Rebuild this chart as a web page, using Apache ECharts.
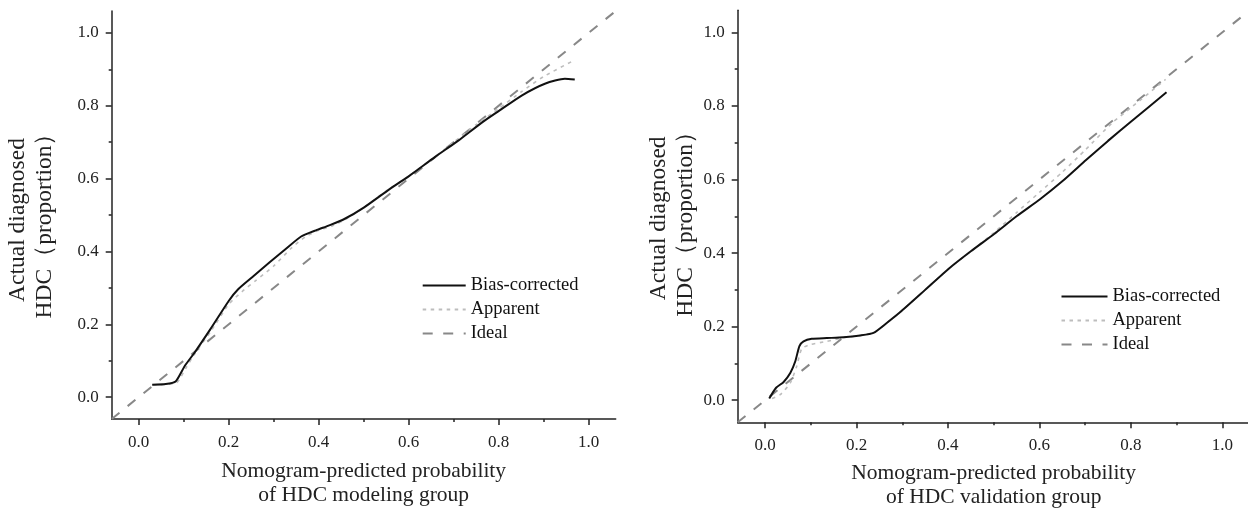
<!DOCTYPE html>
<html>
<head>
<meta charset="utf-8">
<script src="https://cdn.jsdelivr.net/npm/echarts@6/dist/echarts.min.js"></script>
<style>
html,body{margin:0;padding:0;background:#fff;}
#chart{width:1248px;height:508px;}
</style>
</head>
<body>
<div id="chart"></div>
<script>
// ---- Data ----
const majorTicks = [0, 0.2, 0.4, 0.6, 0.8, 1.0];
const minorTicks = [0.1, 0.3, 0.5, 0.7, 0.9];
const axisMin = -0.06;
const axisMax = 1.06;
const seriesNames = ['Bias-corrected', 'Apparent', 'Ideal'];

// Modeling group (left)
const bcX_L = [0.030, 0.060, 0.082, 0.102, 0.124, 0.159, 0.200, 0.221, 0.256, 0.291, 0.326, 0.361, 0.396, 0.422, 0.457, 0.501, 0.553, 0.602, 0.658, 0.711, 0.764, 0.802, 0.851, 0.904, 0.947, 0.969];
const bcY_L = [0.034, 0.036, 0.043, 0.085, 0.122, 0.186, 0.264, 0.296, 0.333, 0.370, 0.406, 0.441, 0.459, 0.471, 0.489, 0.521, 0.567, 0.608, 0.659, 0.705, 0.755, 0.787, 0.828, 0.861, 0.874, 0.872];
const apX_L = [0.032, 0.060, 0.085, 0.105, 0.125, 0.160, 0.200, 0.230, 0.260, 0.300, 0.340, 0.370, 0.400, 0.430, 0.460, 0.500, 0.550, 0.600, 0.650, 0.700, 0.750, 0.800, 0.850, 0.900, 0.965];
const apY_L = [0.034, 0.035, 0.040, 0.080, 0.120, 0.180, 0.255, 0.290, 0.320, 0.360, 0.410, 0.440, 0.458, 0.470, 0.488, 0.520, 0.566, 0.607, 0.652, 0.700, 0.748, 0.792, 0.838, 0.880, 0.923];

// Validation group (right)
const bcX_R = [0.009, 0.024, 0.040, 0.055, 0.066, 0.075, 0.084, 0.102, 0.135, 0.171, 0.208, 0.237, 0.266, 0.295, 0.350, 0.401, 0.450, 0.501, 0.550, 0.602, 0.650, 0.702, 0.750, 0.800, 0.878];
const bcY_R = [0.005, 0.034, 0.049, 0.074, 0.106, 0.147, 0.160, 0.167, 0.169, 0.171, 0.176, 0.183, 0.210, 0.239, 0.300, 0.357, 0.405, 0.452, 0.500, 0.547, 0.595, 0.653, 0.705, 0.757, 0.837];
const apX_R = [0.015, 0.033, 0.055, 0.069, 0.080, 0.098, 0.135, 0.171, 0.208, 0.237, 0.266, 0.295, 0.350, 0.401, 0.450, 0.500, 0.550, 0.600, 0.650, 0.700, 0.760, 0.800, 0.876];
const apY_R = [0.005, 0.015, 0.047, 0.092, 0.140, 0.151, 0.160, 0.170, 0.176, 0.183, 0.210, 0.239, 0.300, 0.357, 0.405, 0.455, 0.510, 0.565, 0.620, 0.680, 0.755, 0.795, 0.872];

const idealX = [axisMin, axisMax];
const idealY = [axisMin, axisMax];

const xTitles = ['Nomogram-predicted probability\nof HDC modeling group', 'Nomogram-predicted probability\nof HDC validation group'];
const yTitle = 'Actual diagnosed\nHDC（proportion）';

// ---- Chart ----
const FONT = "'Liberation Serif', 'Times New Roman', serif";
const pair = (xs, ys) => xs.map((x, i) => [x, ys[i]]);

function majorAxis(gridIndex, isX, name, nameGap, padding) {
  return {
    type: 'value', gridIndex, min: axisMin, max: axisMax,
    position: isX ? 'bottom' : 'left',
    splitLine: {show: false},
    axisLine: {show: true, onZero: false, lineStyle: {color: '#222', width: 1.5}},
    axisTick: {show: true, inside: false, length: 6, customValues: majorTicks, lineStyle: {color: '#222', width: 1.5}},
    axisLabel: {show: true, customValues: majorTicks, margin: isX ? 15 : 13, fontFamily: FONT, fontSize: 17, color: '#222',
      formatter: v => v.toFixed(1)},
    name: name, nameLocation: 'middle', nameGap: nameGap,
    nameRotate: isX ? 0 : 90,
    nameTextStyle: {fontFamily: FONT, fontSize: isX ? 21.5 : 23.5, color: '#222', lineHeight: isX ? 24 : 27, padding: padding || 0}
  };
}
function minorAxis(gridIndex, isX) {
  return {
    type: 'value', gridIndex, min: axisMin, max: axisMax,
    position: isX ? 'bottom' : 'left',
    splitLine: {show: false},
    axisLine: {show: false, onZero: false},
    axisTick: {show: true, inside: false, length: 3, customValues: minorTicks, lineStyle: {color: '#222', width: 1.5}},
    axisLabel: {show: false}
  };
}

function seriesSet(xIdx, yIdx, bcX, bcY, apX, apY) {
  return [
    {name: seriesNames[0], type: 'line', xAxisIndex: xIdx, yAxisIndex: yIdx, data: pair(bcX, bcY),
      symbol: 'none', smooth: 0.2, z: 5, lineStyle: {color: '#111', width: 2}, itemStyle: {color: '#111'}},
    {name: seriesNames[1], type: 'line', xAxisIndex: xIdx, yAxisIndex: yIdx, data: pair(apX, apY),
      symbol: 'none', smooth: 0.2, z: 4, lineStyle: {color: '#bdbdbd', width: 1.6, type: [3.5, 4.5]}, itemStyle: {color: '#bdbdbd'}},
    {name: seriesNames[2], type: 'line', xAxisIndex: xIdx, yAxisIndex: yIdx, data: pair(idealX, idealY),
      symbol: 'none', z: 3, lineStyle: {color: '#888', width: 2, type: [10, 10.5]}, itemStyle: {color: '#888'}}
  ];
}

const legendBase = {
  data: seriesNames, orient: 'vertical', padding: 0, itemHeight: 14, itemGap: 5, selectedMode: false,
  textStyle: {fontFamily: FONT, fontSize: 18.5, color: '#111'},
  itemStyle: {color: 'rgba(0,0,0,0)', borderWidth: 0, opacity: 0}
};

const option = {
  animation: false,
  backgroundColor: '#fff',
  grid: [
    {left: 111.7, top: 11, width: 504, height: 408, containLabel: false, outerBoundsMode: 'none'},
    {left: 737.7, top: 10.3, width: 512, height: 412, containLabel: false, outerBoundsMode: 'none'}
  ],
  legend: [
    Object.assign({}, legendBase, {left: 421.7, top: 276, itemWidth: 43}),
    Object.assign({}, legendBase, {left: 1060.5, top: 287, itemWidth: 46})
  ],
  xAxis: [
    majorAxis(0, true, xTitles[0], 40),
    minorAxis(0, true),
    majorAxis(1, true, xTitles[1], 39),
    minorAxis(1, true)
  ],
  yAxis: [
    majorAxis(0, false, yTitle, 53, [0, 10, 0, 0]),
    minorAxis(0, false),
    majorAxis(1, false, yTitle, 37, [0, 4, 0, 0]),
    minorAxis(1, false)
  ],
  series: [
    ...seriesSet(0, 0, bcX_L, bcY_L, apX_L, apY_L),
    ...seriesSet(2, 2, bcX_R, bcY_R, apX_R, apY_R)
  ]
};

const chart = echarts.init(document.getElementById('chart'), null, {renderer: 'canvas'});
chart.setOption(option);
</script>
</body>
</html>
